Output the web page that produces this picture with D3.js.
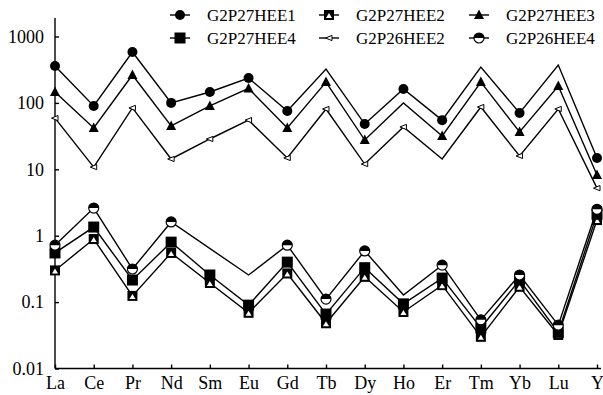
<!DOCTYPE html>
<html lang="en">
<head>
<meta charset="UTF-8"/>
<title>REE pattern</title>
<script src="https://d3js.org/d3.v7.min.js"></script>
<style>
    body { margin: 0; background: #fff; }
    .axis path, .axis line { stroke: #000; stroke-width: 1.4px; fill: none; }
    path.line { fill: none; stroke: #000; stroke-width: 1.4px; }
</style>
</head>
<body>
<script>
// categories
var elements = ["La", "Ce", "Pr", "Nd", "Sm", "Eu", "Gd", "Tb", "Dy", "Ho", "Er", "Tm", "Yb", "Lu", "Y"];

// series values
var g2p27hee1 = [360, 90, 584, 100, 146, 237, 75.5, 324, 48, 162, 55, 347, 70.5, 372, 14.8];
var g2p27hee2 = [0.30, 0.89, 0.124, 0.55, 0.194, 0.069, 0.27, 0.048, 0.24, 0.071, 0.18, 0.030, 0.17, 0.032, 1.72];
var g2p27hee3 = [146, 42, 263, 45, 90, 165, 42, 206, 27.6, 100, 31.7, 206, 36.5, 180, 8.2];
var g2p27hee4 = [0.55, 1.35, 0.215, 0.80, 0.256, 0.090, 0.40, 0.066, 0.33, 0.094, 0.23, 0.041, 0.215, 0.035, 2.1];
var g2p26hee2 = [59, 10.8, 84, 14.3, 28.6, 55, 14.8, 81, 12, 43.4, 14.3, 86.7, 15.9, 81, 5.2];
var g2p26hee4 = [0.72, 2.61, 0.315, 1.61, null, 0.256, 0.72, 0.111, 0.59, 0.128, 0.36, 0.054, 0.256, 0.045, 2.5];

// points drawn without a marker in the original
var noMarker1 = ["Tb", "Tm", "Lu"];
var noMarker3 = ["Ho"];
var noMarker26_2 = ["Er"];
var noMarker26_4 = ["Eu", "Ho"];

// tick labels
var yTicks = [0.01, 0.1, 1, 10, 100, 1000];
var yTickLabels = ["0.01", "0.1", "1", "10", "100", "1000"];

var FONT = "'Liberation Serif'";
var W = 603, H = 395;
var svg = d3.select("body").append("svg")
    .attr("width", W)
    .attr("height", H);

var x = d3.scalePoint()
    .domain(elements)
    .range([55, 597]);

var y = d3.scaleLog()
    .domain([0.01, 1000])
    .range([368.5, 36.5]);

// marker drawing functions
function circle(g) {
    g.append("circle").attr("r", 5).attr("fill", "#000");
}
function triangle(g) {
    g.append("path").attr("d", "M0,-5.5L5,4L-5,4Z").attr("fill", "#000");
}
function square(g) {
    g.append("rect").attr("x", -5.5).attr("y", -5.5).attr("width", 11).attr("height", 11).attr("fill", "#000");
}
function triSquare(g) {
    g.append("rect").attr("x", -5).attr("y", -5).attr("width", 10).attr("height", 10).attr("fill", "#000");
    g.append("path").attr("d", "M0,-2L3,3L-3,3Z").attr("fill", "#fff");
}
function smallOpen(g) {
    g.append("path").attr("d", "M-3.5,0L3,-2.6L3,2.6Z").attr("fill", "#fff")
        .attr("stroke", "#000").attr("stroke-width", 1);
}
function halfCircle(g) {
    g.append("circle").attr("r", 5).attr("fill", "#fff").attr("stroke", "#000").attr("stroke-width", 1.2);
    g.append("path").attr("d", "M-5,0A5,5 0 0 1 5,0Z").attr("fill", "#000");
}

var series = [
    {name: "G2P27HEE1", values: g2p27hee1, marker: circle, hide: noMarker1},
    {name: "G2P27HEE2", values: g2p27hee2, marker: triSquare, hide: []},
    {name: "G2P27HEE3", values: g2p27hee3, marker: triangle, hide: noMarker3},
    {name: "G2P27HEE4", values: g2p27hee4, marker: square, hide: []},
    {name: "G2P26HEE2", values: g2p26hee2, marker: smallOpen, hide: noMarker26_2},
    {name: "G2P26HEE4", values: g2p26hee4, marker: halfCircle, hide: noMarker26_4}
];

// axes
var yAxis = d3.axisLeft(y)
    .tickValues(yTicks)
    .tickFormat(function (d, i) { return yTickLabels[i]; })
    .tickSizeInner(-4)
    .tickSizeOuter(0)
    .tickPadding(11);
var gy = svg.append("g")
    .attr("class", "axis")
    .attr("transform", "translate(" + x(elements[0]) + ",0)")
    .call(yAxis);
gy.select(".domain").remove();
gy.selectAll("text")
    .style("font-family", FONT)
    .style("font-size", "18px");
gy.append("line")
    .attr("x1", 0).attr("x2", 0)
    .attr("y1", 18).attr("y2", y(0.01));

var xAxis = d3.axisBottom(x)
    .tickSizeInner(-4)
    .tickSizeOuter(0)
    .tickPadding(8);
var gx = svg.append("g")
    .attr("class", "axis")
    .attr("transform", "translate(0," + y(0.01) + ")")
    .call(xAxis);
gx.select(".domain").remove();
gx.selectAll("text")
    .style("font-family", FONT)
    .style("font-size", "18px");
gx.append("line")
    .attr("x1", x(elements[0])).attr("x2", 601)
    .attr("y1", 0).attr("y2", 0);

// lines
var line = d3.line()
    .x(function (d) { return x(d.el); })
    .y(function (d) { return y(d.v); });

series.forEach(function (s) {
    var pts = elements.map(function (el, i) {
        return {el: el, v: s.values[i]};
    }).filter(function (d) { return d.v != null; });

    svg.append("path")
        .attr("class", "line")
        .attr("d", line(pts));

    pts.forEach(function (d) {
        if (s.hide.indexOf(d.el) >= 0) return;
        var g = svg.append("g")
            .attr("transform", "translate(" + x(d.el) + "," + y(d.v) + ")");
        s.marker(g);
    });
});

// legend
var legX = [180, 329, 479], legY = [15, 38];
series.forEach(function (s, i) {
    var cx = legX[i % 3], cy = legY[Math.floor(i / 3)];
    var g = svg.append("g").attr("transform", "translate(" + cx + "," + cy + ")");
    g.append("line").attr("x1", -10).attr("x2", 10).attr("y1", 0).attr("y2", 0)
        .attr("stroke", "#000").attr("stroke-width", 1.4);
    s.marker(g);
    g.append("text")
        .attr("x", 27).attr("y", 0)
        .attr("dy", "0.35em")
        .style("font-family", FONT)
        .style("font-size", "17px")
        .text(s.name);
});
</script>
</body>
</html>
